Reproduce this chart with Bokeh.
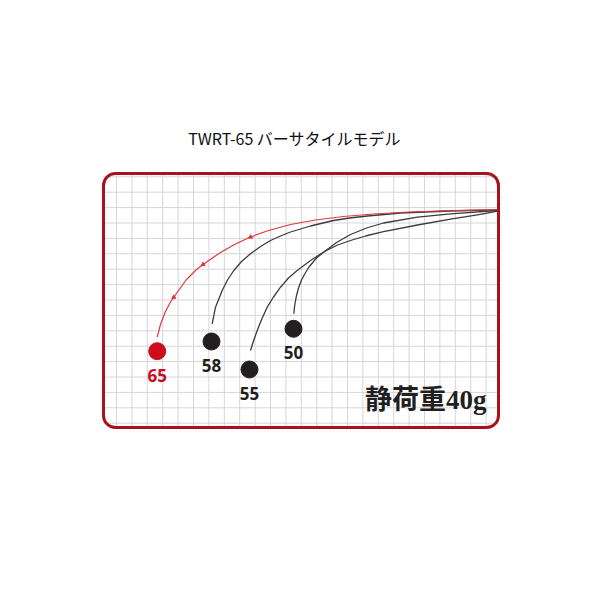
import numpy as np
from bokeh.plotting import figure
from bokeh.models import BoxAnnotation, Label, Range1d
from bokeh.core.properties import value
from bokeh.embed import file_html
from bokeh.resources import INLINE

# rod power labels and where each rod tip ends up (frame units, origin bottom-left)
rods = ["65", "58", "55", "50"]
tip_x = [53.7, 108, 146, 190]
tip_y = [76.3, 86, 58, 98.7]

# bent rod curves, read from tip (left) to butt (right)
red65_x = [53.7, 57, 61.5, 67, 74, 83, 93, 104.5, 117, 131, 147, 165, 187, 212, 240, 270, 305, 350, 394]
red65_y = [90.3, 103, 115, 125.5, 135.5, 148, 158, 166.5, 175, 183, 190.5, 197, 203, 207.5, 211, 213.5, 215.5, 217, 218]

rod58_x = [108.7, 112, 118.7, 124, 130.3, 138, 147, 157, 167, 177, 187, 207, 230, 246, 264, 297, 347, 394]
rod58_y = [103.7, 120.3, 137, 147.5, 157, 166, 173.7, 181, 187, 191.5, 195.5, 201.5, 207, 209.5, 211.5, 214.5, 216.5, 217.7]

rod55_x = [147, 150, 153.7, 158.5, 163.7, 170, 177, 185, 193.7, 207, 221, 234, 247, 262, 280, 314, 347, 377, 394]
rod55_y = [77, 86.5, 97, 109, 120.3, 130.5, 140.3, 149.5, 157, 167, 176, 182.5, 187, 191.5, 195.8, 202.5, 208.3, 213.2, 216.3]

rod50_x = [190.3, 191.2, 192.8, 195, 198, 201.5, 205.5, 213, 221, 233, 247, 263, 280, 314, 347, 394]
rod50_y = [113.7, 122, 131, 139.5, 147.5, 154, 160.5, 169.5, 176, 185, 193, 199.5, 204.5, 210.3, 213.7, 217]

# guide marks on the red rod
guide_x = [70.3, 99.5, 147]
guide_y = [130.3, 163, 190.5]

FRAME_W, FRAME_H = 395, 254

p = figure(width=584, height=584, output_backend="svg", toolbar_location=None,
           x_range=Range1d(-103, 481), y_range=Range1d(-157, 427),
           min_border=0, background_fill_color="white")
p.axis.visible = False
p.grid.visible = False
p.outline_line_color = None

# graph paper
gx = 13 + 15.4 * np.arange(25)
gy = 4.3 + 15.4 * np.arange(17)
p.segment(x0=gx, y0=0, x1=gx, y1=FRAME_H, line_color="#d6d6da", line_width=1)
p.segment(x0=0, y0=gy, x1=FRAME_W, y1=gy, line_color="#d6d6da", line_width=1)

# rounded red frame
p.add_layout(BoxAnnotation(left=0, right=FRAME_W, bottom=0, top=FRAME_H,
                           fill_alpha=0, line_alpha=1, line_color="#a8121f",
                           line_width=3, border_radius=12))

# rods
for xs, ys in [(rod58_x, rod58_y), (rod55_x, rod55_y), (rod50_x, rod50_y)]:
    p.line(xs, ys, line_color="#3c3c3c", line_width=1.3, line_join="round")
p.line(red65_x, red65_y, line_color="#e0383a", line_width=1.2, line_join="round")
p.scatter(guide_x, guide_y, marker="triangle", size=4, color="#e0383a")

dot_colors = ["#cc0d1e", "#231f20", "#231f20", "#231f20"]
p.scatter(tip_x, tip_y, size=17, fill_color=dot_colors, line_color=dot_colors)
p.text(tip_x, tip_y, text=rods, y_offset=24, text_align="center",
       text_baseline="middle", text_color=dot_colors,
       text_font=value("Open Sans"), text_font_style="bold",
       text_font_size="17px")

p.add_layout(Label(x=191, y=290, text="TWRT-65 バーサタイルモデル",
                   text_align="center", text_baseline="middle",
                   text_font="Noto Sans CJK JP", text_font_size="16px",
                   text_color="#111111"))
p.add_layout(Label(x=383, y=28, text="静荷重40g",
                   text_align="right", text_baseline="middle",
                   text_font="Liberation Serif, Noto Sans CJK JP",
                   text_font_style="bold", text_font_size="27px",
                   text_color="#231f20"))

open("out.html", "w").write(file_html(p, INLINE))
